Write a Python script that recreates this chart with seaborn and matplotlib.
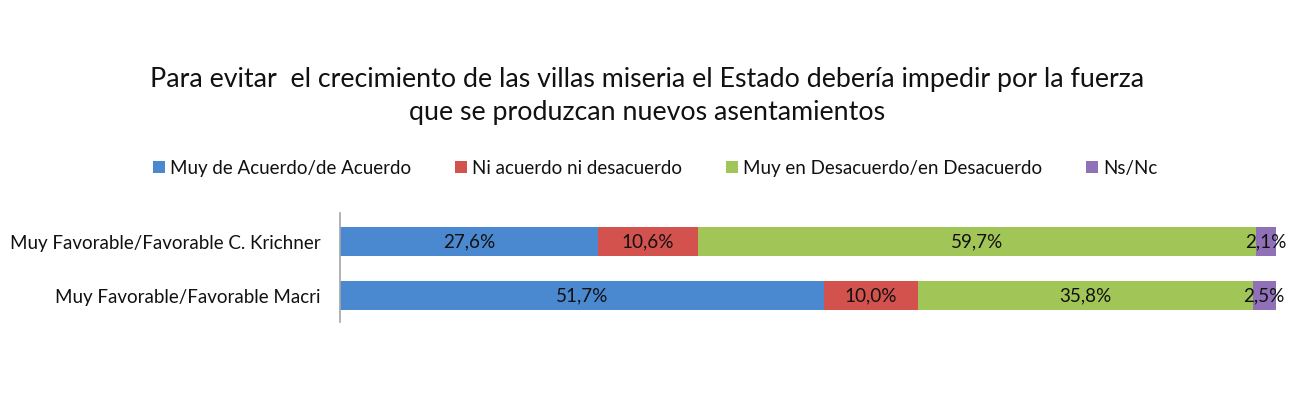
import numpy as np
import pandas as pd
import matplotlib
matplotlib.use("Agg")
import matplotlib.pyplot as plt
import seaborn as sns
from matplotlib.patches import Patch

# datos
grupos = ["Muy Favorable/Favorable C. Krichner", "Muy Favorable/Favorable Macri"]
categorias = ["Muy de Acuerdo/de Acuerdo", "Ni acuerdo ni desacuerdo",
              "Muy en Desacuerdo/en Desacuerdo", "Ns/Nc"]
acuerdo = [27.6, 51.7]
ni_ni = [10.6, 10.0]
desacuerdo = [59.7, 35.8]
nsnc = [2.1, 2.5]
colores = ["#4A89D0", "#D4524D", "#A2C558", "#9070B6"]

titulo = ("Para evitar  el crecimiento de las villas miseria el Estado debería impedir por la fuerza\n"
          "que se produzcan nuevos asentamientos")

sns.set_style("white")
plt.rcParams["font.family"] = ["Lato", "DejaVu Sans"]

df = pd.DataFrame({"grupo": grupos, categorias[0]: acuerdo, categorias[1]: ni_ni,
                   categorias[2]: desacuerdo, categorias[3]: nsnc})
acum = df[categorias].cumsum(axis=1)

fig = plt.figure(figsize=(13, 3.98), dpi=100)
ax = fig.add_axes([340 / 1300, 1 - 322 / 398, 936 / 1300, 109 / 398])

# barras apiladas: se dibuja el acumulado de mayor a menor
for i in range(len(categorias) - 1, -1, -1):
    sns.barplot(x=acum[categorias[i]], y=df["grupo"], orient="h", color=colores[i],
                width=0.54, saturation=1, linewidth=0, ax=ax)

# etiquetas de valores
for j in range(len(grupos)):
    izq = 0
    for c in categorias:
        v = df[c][j]
        ax.text(izq + v / 2, j, f"{v:.1f}%".replace(".", ","), ha="center", va="center",
                fontsize=13.6, color="#111111")
        izq += v

ax.set_xlim(0, 100)
ax.set_ylim(1.49, -0.528)
ax.set_xlabel("")
ax.set_ylabel("")
ax.set_xticks([])
ax.tick_params(axis="y", length=0, labelsize=13.5, pad=14, labelcolor="#111111")
for s in ["top", "right", "bottom"]:
    ax.spines[s].set_visible(False)
ax.spines["left"].set_color("#A6A6A6")
ax.spines["left"].set_linewidth(1.2)

fig.text(0.498, 1 - 96 / 398, titulo, ha="center", va="center", fontsize=19.3,
         color="#111111", linespacing=1.36)

handles = [Patch(facecolor=c, edgecolor="none") for c in colores]
fig.legend(handles, categorias, loc="center", bbox_to_anchor=(655 / 1300, 1 - 168 / 398), ncol=4,
           frameon=False, fontsize=13.5, handlelength=0.65, handleheight=0.65,
           handletextpad=0.25, columnspacing=2.35, labelcolor="#111111")

fig.savefig("out.png", dpi=100)
